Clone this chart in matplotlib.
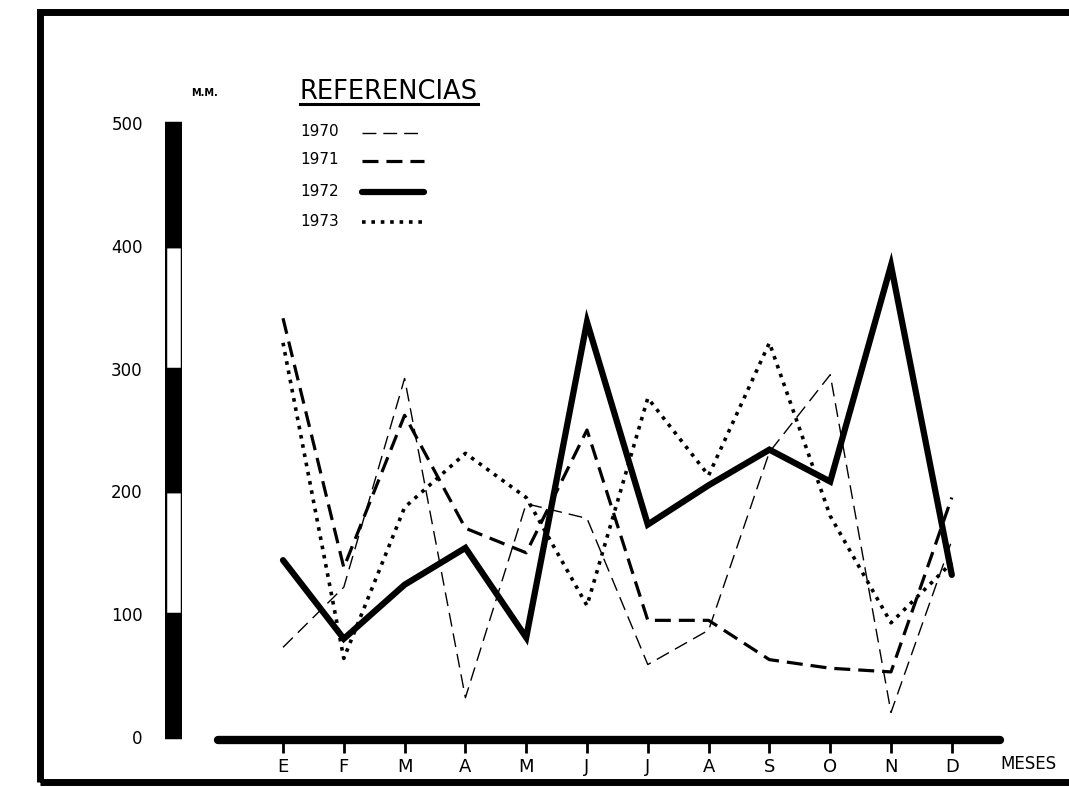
"""Precipitaciones mensuales 1970-1973 (mm), recreated from a scanned chart."""
import matplotlib

matplotlib.use("Agg")
import matplotlib.pyplot as plt
from matplotlib.lines import Line2D
from matplotlib.patches import Rectangle

meses = ["E", "F", "M", "A", "M", "J", "J", "A", "S", "O", "N", "D"]
anios = ["1970", "1971", "1972", "1973"]
lluvia_1970 = [73, 122, 292, 32, 190, 178, 59, 87, 232, 295, 20, 160]
lluvia_1971 = [341, 138, 262, 170, 150, 250, 95, 95, 63, 56, 53, 195]
lluvia_1972 = [144, 80, 124, 154, 81, 338, 173, 205, 234, 208, 384, 132]
lluvia_1973 = [321, 64, 187, 231, 195, 107, 276, 213, 321, 180, 93, 142]
escala_mm = [0, 100, 200, 300, 400, 500]

W, H = 1069, 787


def fx(px):
    return px / W


def fy(py):
    return 1 - py / H


estilos = [
    dict(color="black", lw=1.0, dashes=(10, 5)),
    dict(color="black", lw=2.3, dashes=(5, 2.5)),
    dict(color="black", lw=4.5, solid_capstyle="round", solid_joinstyle="miter"),
    dict(color="black", lw=2.6, dashes=(1, 1.6)),
]

fig = plt.figure(figsize=(W / 100, H / 100), dpi=100)
fig.patch.set_facecolor("white")

# main plotting area: month 0 at px 283, 60.8 px per month; 0 mm at py 737
x0, dx = 283, 60.8
y0, dy = 737, 1.228
left, right, top, bottom = 218, 1000, 100, 740
ylim = ((y0 - bottom) / dy, (y0 - top) / dy)
ax = fig.add_axes([fx(left), fy(bottom), fx(right - left), (bottom - top) / H])
ax.set_xlim((left - x0) / dx, (right - x0) / dx)
ax.set_ylim(*ylim)
for s in ["top", "right", "left"]:
    ax.spines[s].set_visible(False)
ax.spines["bottom"].set_linewidth(6)
ax.spines["bottom"].set_capstyle("round")
ax.set_yticks([])
ax.set_xticks(range(len(meses)))
ax.set_xticklabels(meses, fontsize=13)
ax.tick_params(axis="x", length=9, width=2, pad=4)

series = [lluvia_1970, lluvia_1971, lluvia_1972, lluvia_1973]
for vals, st in zip(series, estilos):
    ax.plot(range(len(meses)), vals, **st)

fig.text(fx(1000), fy(764), "MESES", fontsize=12, va="center", ha="left")

# vertical scale bar with alternating blocks
axs = fig.add_axes([fx(165), fy(bottom), fx(17), (bottom - top) / H])
axs.set_ylim(*ylim)
for i in range(len(escala_mm) - 1):
    c = "black" if i % 2 == 0 else "white"
    axs.bar(0, escala_mm[i + 1] - escala_mm[i], bottom=escala_mm[i], width=1,
            color=c, edgecolor="black", linewidth=2.5)
axs.set_xlim(-0.5, 0.5)
for s in axs.spines.values():
    s.set_visible(False)
axs.set_xticks([])
axs.set_yticks(escala_mm)
axs.set_yticklabels([str(v) for v in escala_mm], fontsize=12)
axs.tick_params(axis="y", length=0, pad=16)
fig.text(fx(191), fy(93), "M.M.", fontsize=7, fontweight="bold", va="center", ha="left")

# legend drawn by hand
fig.text(fx(300), fy(92), "REFERENCIAS", fontsize=18.5, va="center", ha="left")
fig.add_artist(Line2D([fx(300), fx(478)], [fy(104), fy(104)], color="black", lw=2.2))
ys = [132, 160, 191, 221]
for anio, st, yy in zip(anios, estilos, ys):
    fig.text(fx(300), fy(yy), anio, fontsize=11, va="center", ha="left")
    fig.add_artist(Line2D([fx(362), fx(424)], [fy(yy + 1), fy(yy + 1)], **st))

# drawn frame around the sheet
fig.add_artist(Rectangle((fx(40), fy(782)), fx(W + 20 - 40), (782 - 12) / H,
                         fill=False, edgecolor="black", lw=5))

fig.savefig("out.png", dpi=100)
